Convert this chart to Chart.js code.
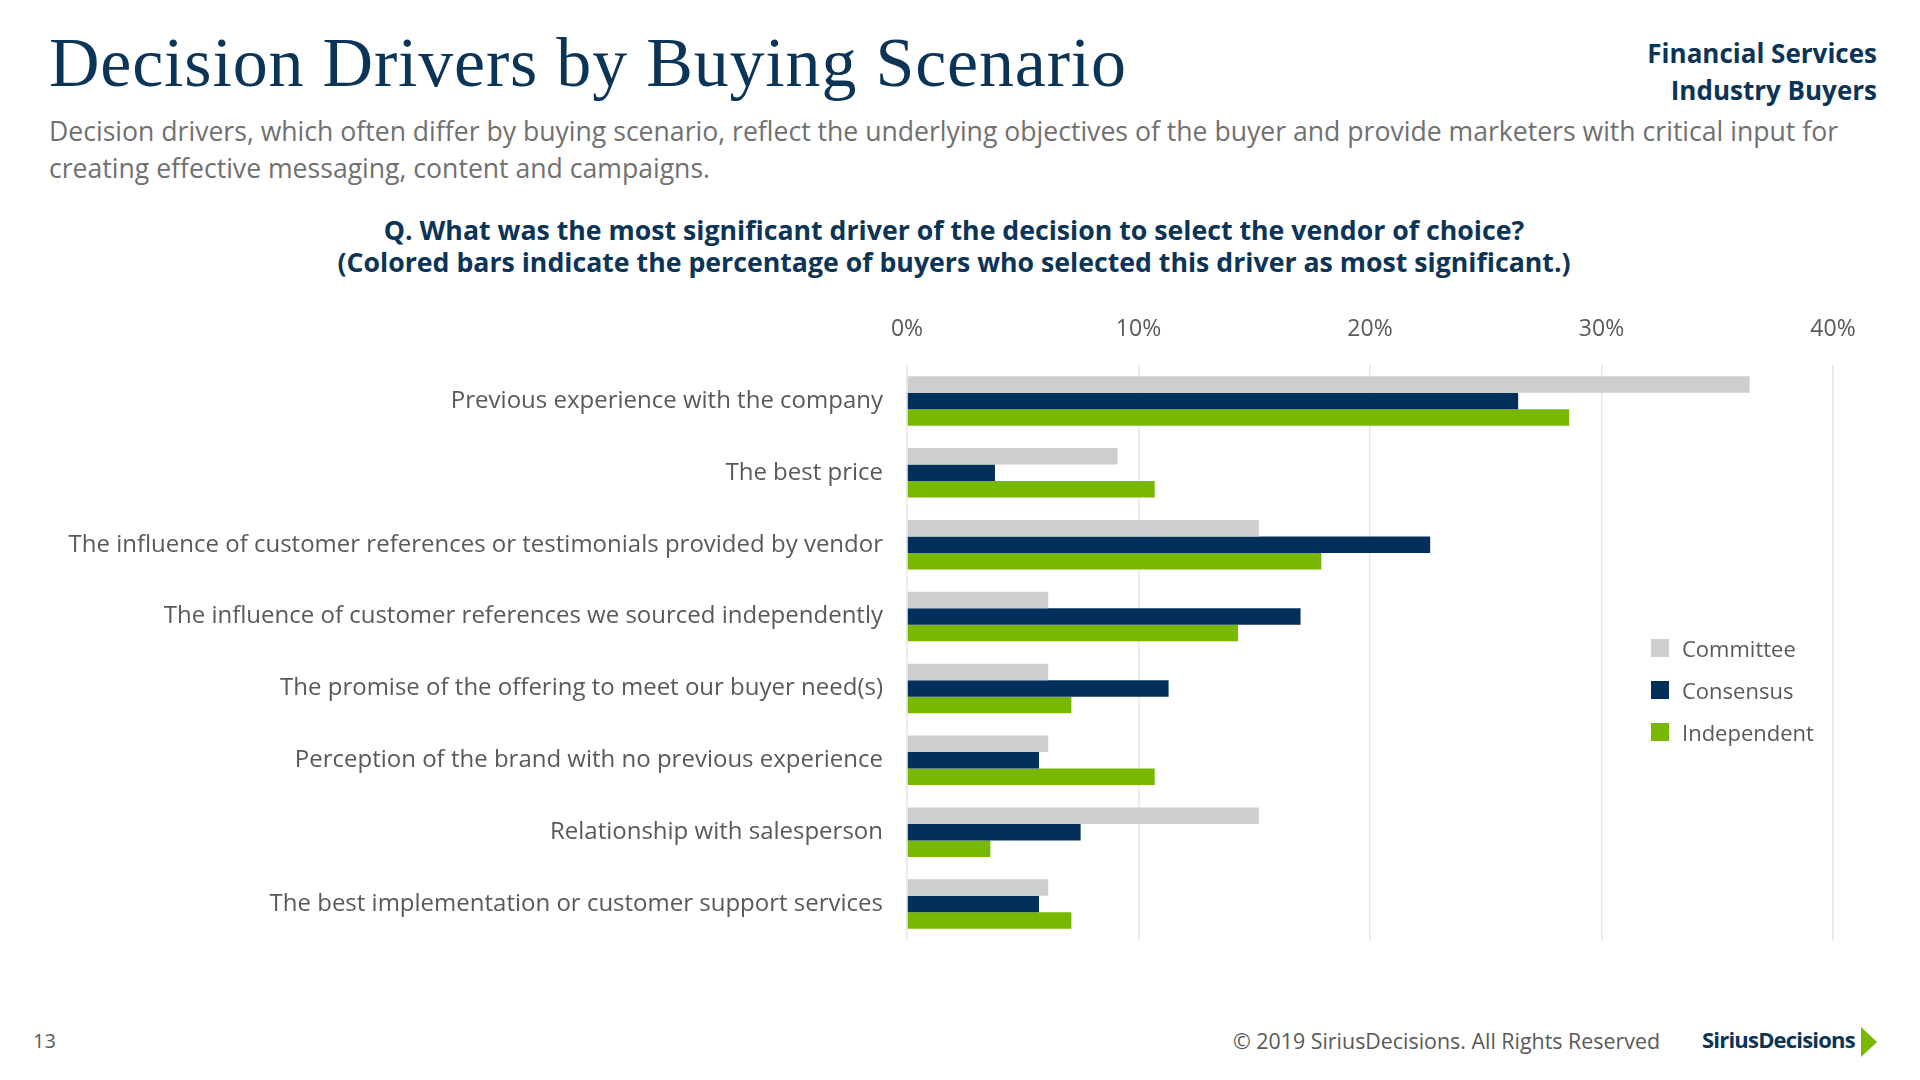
<!DOCTYPE html>
<html>
<head>
<meta charset="utf-8">
<script src="https://cdn.jsdelivr.net/npm/chart.js@4/dist/chart.umd.min.js"></script>
<style>
  html, body { margin: 0; padding: 0; background: #fff; }
  body { width: 1920px; height: 1080px; position: relative; overflow: hidden; font-family: "Open Sans", sans-serif; }
  .abs { position: absolute; white-space: nowrap; }
  #title { left: 49px; top: 28px; font-family: "Liberation Serif", serif; font-size: 70px; line-height: 70px; letter-spacing: 0.8px; color: #0b3457; }
  #corner { right: 43px; top: 35px; text-align: right; font-weight: 700; font-size: 26px; line-height: 37px; color: #0b3457; }
  #sub { left: 49px; top: 113px; font-size: 26.6px; line-height: 37px; color: #707070; white-space: normal; width: 1820px; }
  #question { left: 0; width: 1908px; top: 214px; text-align: center; font-weight: 700; font-size: 26.7px; line-height: 32px; color: #0b3457; }
  #wrap { left: 0; top: 300px; width: 1893px; height: 650px; }
  #legend { left: 1651px; top: 627px; }
  .item { display: flex; align-items: center; height: 42px; font-size: 22px; color: #595959; }
  .sw { width: 18px; height: 18px; margin-right: 13px; }
  #page { left: 33px; top: 1027px; font-size: 20px; color: #595959; }
  #copy { right: 260px; top: 1026px; font-size: 21.4px; color: #595959; }
  #logo { left: 1702px; top: 1024px; font-size: 22px; font-weight: 700; color: #0b3457; letter-spacing: -0.8px; }
  #arrow { left: 1861px; top: 1027px; width: 0; height: 0; border-top: 15px solid transparent; border-bottom: 15px solid transparent; border-left: 16px solid #7ab800; }
</style>
</head>
<body>
<div class="abs" id="title">Decision Drivers by Buying Scenario</div>
<div class="abs" id="corner">Financial Services<br>Industry Buyers</div>
<div class="abs" id="sub">Decision drivers, which often differ by buying scenario, reflect the underlying objectives of the buyer and provide marketers with critical input for creating effective messaging, content and campaigns.</div>
<div class="abs" id="question">Q. What was the most significant driver of the decision to select the vendor of choice?<br>(Colored bars indicate the percentage of buyers who selected this driver as most significant.)</div>
<div class="abs" id="wrap"><canvas id="chart"></canvas></div>
<div class="abs" id="legend"></div>
<div class="abs" id="page">13</div>
<div class="abs" id="copy">© 2019 SiriusDecisions. All Rights Reserved</div>
<div class="abs" id="logo">SiriusDecisions</div>
<div class="abs" id="arrow"></div>
<script>
// chart data
const categories = [
  'Previous experience with the company',
  'The best price',
  'The influence of customer references or testimonials provided by vendor',
  'The influence of customer references we sourced independently',
  'The promise of the offering to meet our buyer need(s)',
  'Perception of the brand with no previous experience',
  'Relationship with salesperson',
  'The best implementation or customer support services'
];
const committee   = [36.4, 9.1, 15.2, 6.1, 6.1, 6.1, 15.2, 6.1];
const consensus   = [26.4, 3.8, 22.6, 17.0, 11.3, 5.7, 7.5, 5.7];
const independent = [28.6, 10.7, 17.9, 14.3, 7.1, 10.7, 3.6, 7.1];
const seriesNames  = ['Committee', 'Consensus', 'Independent'];
const seriesColors = ['#cdcfcf', '#03305a', '#78b800'];
const xTicks = [0, 10, 20, 30, 40];

const seriesData = [committee, consensus, independent];
const datasets = seriesNames.map((name, i) => ({
  label: name,
  data: seriesData[i],
  backgroundColor: seriesColors[i],
  borderWidth: 0,
  categoryPercentage: 0.69,
  barPercentage: 1.0
}));

// legend built from the same series
const legend = document.getElementById('legend');
seriesNames.forEach((name, i) => {
  const row = document.createElement('div');
  row.className = 'item';
  row.innerHTML = '<div class="sw" style="background:' + seriesColors[i] + '"></div>' + name;
  legend.appendChild(row);
});

const ctx = document.getElementById('chart');
new Chart(ctx, {
  type: 'bar',
  data: { labels: categories, datasets: datasets },
  options: {
    indexAxis: 'y',
    responsive: true,
    maintainAspectRatio: false,
    animation: false,
    layout: { padding: { left: 0, right: 60, top: 0, bottom: 10 } },
    plugins: { legend: { display: false }, tooltip: { enabled: false } },
    scales: {
      x: {
        position: 'top',
        min: xTicks[0],
        max: xTicks[xTicks.length - 1],
        afterBuildTicks: (scale) => { scale.ticks = xTicks.map(v => ({ value: v })); },
        afterFit: (scale) => { scale.height = 65; },
        grid: { color: '#e6e6e6', lineWidth: 1.5, drawTicks: false },
        border: { display: false },
        ticks: {
          padding: 22,
          color: '#595959',
          font: { family: 'Open Sans', size: 23 },
          callback: (v) => v + '%'
        }
      },
      y: {
        afterFit: (scale) => {
          scale.width = 907;
          scale.paddingTop = 0;
          scale.paddingBottom = 0;
        },
        grid: { display: false, drawTicks: false },
        border: { display: false },
        ticks: {
          padding: 24,
          color: '#595959',
          font: { family: 'Open Sans', size: 24 }
        }
      }
    }
  }
});
</script>
</body>
</html>
